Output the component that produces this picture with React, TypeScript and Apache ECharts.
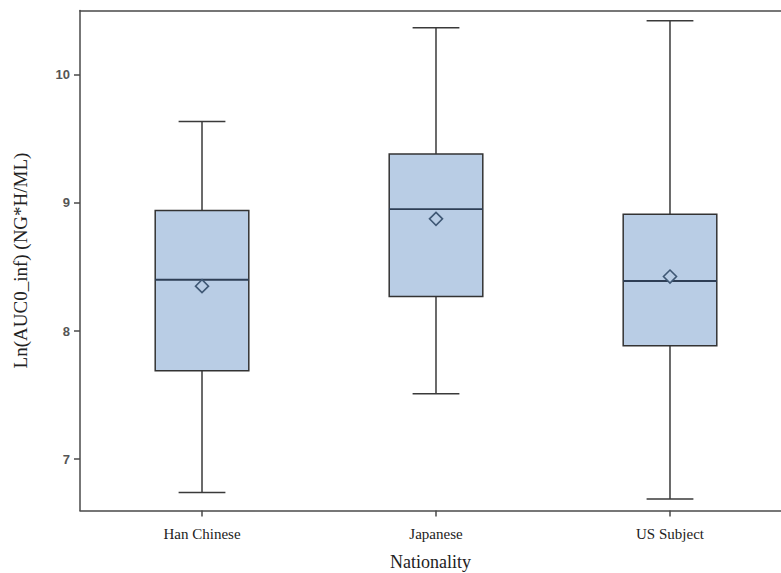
import React, { useEffect, useRef } from "react";
import * as echarts from "echarts";

const categories = ["Han Chinese", "Japanese", "US Subject"];
const lowWhisker = [6.74, 7.51, 6.69];
const q1 = [7.69, 8.27, 7.885];
const median = [8.4, 8.95, 8.39];
const q3 = [8.94, 9.38, 8.91];
const highWhisker = [9.635, 10.365, 10.42];
const mean = [8.35, 8.875, 8.425];
const yTicks = [7, 8, 9, 10];
const xPositions = [1, 2, 3];

const BOX_FILL = "#b9cde5";
const LINE = "#3a3a3a";
const MEDIAN = "#2e3e55";
const DIAMOND = "#3f5875";
const AXIS = "#4a4a4a";

export default function App() {
  const ref = useRef<HTMLDivElement>(null);
  useEffect(() => {
    if (!ref.current) return;
    const chart = echarts.init(ref.current, undefined, { renderer: "svg" });
    const data = categories.map((_, i) => [
      xPositions[i],
      lowWhisker[i],
      q1[i],
      median[i],
      q3[i],
      highWhisker[i],
      mean[i],
    ]);
    chart.setOption({
      animation: false,
      backgroundColor: "#ffffff",
      grid: {
        left: 80,
        top: 10.5,
        right: 0,
        bottom: 62.5,
        containLabel: false,
        outerBoundsMode: "none",
      },
      xAxis: [
        {
          type: "value",
          min: 0.4786,
          max: 3.4744,
          name: "Nationality",
          nameLocation: "middle",
          nameGap: 42,
          nameTextStyle: {
            fontFamily: "Liberation Serif",
            fontSize: 18,
            color: "#222",
          },
          axisLine: { show: true, lineStyle: { color: AXIS, width: 1.5 } },
          axisTick: {
            show: true,
            customValues: xPositions,
            length: 6,
            lineStyle: { color: AXIS, width: 1.5 },
          },
          axisLabel: {
            customValues: xPositions,
            formatter: (v: number) => categories[Math.round(v) - 1] ?? "",
            fontFamily: "Liberation Serif",
            fontSize: 15,
            color: "#222",
            margin: 16,
          },
          splitLine: { show: false },
        },
        {
          type: "value",
          position: "top",
          min: 0.4786,
          max: 3.4744,
          axisLine: { show: true, lineStyle: { color: AXIS, width: 1.5 } },
          axisTick: { show: false },
          axisLabel: { show: false },
          splitLine: { show: false },
        },
      ],
      yAxis: {
        type: "value",
        min: 6.6,
        max: 10.5,
        name: "Ln(AUC0_inf) (NG*H/ML)",
        nameLocation: "middle",
        nameGap: 50,
        nameTextStyle: {
          fontFamily: "Liberation Serif",
          fontSize: 19,
          color: "#222",
        },
        axisLine: { show: true, lineStyle: { color: AXIS, width: 1.5 } },
        axisTick: {
          show: true,
          customValues: yTicks,
          length: 6,
          lineStyle: { color: AXIS, width: 1.5 },
        },
        axisLabel: {
          customValues: yTicks,
          fontFamily: "Liberation Sans",
          fontWeight: "bold",
          fontSize: 13,
          color: "#555",
          margin: 10,
        },
        splitLine: { show: false },
      },
      series: [
        {
          type: "custom",
          xAxisIndex: 0,
          data,
          encode: { x: 0, y: [1, 2, 3, 4, 5, 6] },
          renderItem: (params: any, api: any) => {
            const x = api.value(0);
            const lo = api.coord([x, api.value(1)]);
            const b1 = api.coord([x, api.value(2)]);
            const md = api.coord([x, api.value(3)]);
            const b3 = api.coord([x, api.value(4)]);
            const hi = api.coord([x, api.value(5)]);
            const mn = api.coord([x, api.value(6)]);
            const boxL = api.coord([x - 0.2, 0])[0];
            const boxR = api.coord([x + 0.2, 0])[0];
            const capL = api.coord([x - 0.1, 0])[0];
            const capR = api.coord([x + 0.1, 0])[0];
            const cx = lo[0];
            const d = 6.5;
            const ls = { stroke: LINE, lineWidth: 1.5 };
            return {
              type: "group",
              children: [
                { type: "line", shape: { x1: cx, y1: hi[1], x2: cx, y2: b3[1] }, style: ls },
                { type: "line", shape: { x1: cx, y1: b1[1], x2: cx, y2: lo[1] }, style: ls },
                { type: "line", shape: { x1: capL, y1: hi[1], x2: capR, y2: hi[1] }, style: ls },
                { type: "line", shape: { x1: capL, y1: lo[1], x2: capR, y2: lo[1] }, style: ls },
                {
                  type: "rect",
                  shape: { x: boxL, y: b3[1], width: boxR - boxL, height: b1[1] - b3[1] },
                  style: { fill: BOX_FILL, stroke: "#333", lineWidth: 1.5 },
                },
                {
                  type: "line",
                  shape: { x1: boxL, y1: md[1], x2: boxR, y2: md[1] },
                  style: { stroke: MEDIAN, lineWidth: 1.8 },
                },
                {
                  type: "polygon",
                  shape: {
                    points: [
                      [cx, mn[1] - d],
                      [cx + d, mn[1]],
                      [cx, mn[1] + d],
                      [cx - d, mn[1]],
                    ],
                  },
                  style: { fill: BOX_FILL, stroke: DIAMOND, lineWidth: 1.6 },
                },
              ],
            };
          },
        },
      ],
    });
    return () => chart.dispose();
  }, []);
  return (
    <div
      ref={ref}
      style={{ position: "fixed", left: 0, top: 0, width: 781, height: 573, background: "#fff" }}
    />
  );
}
